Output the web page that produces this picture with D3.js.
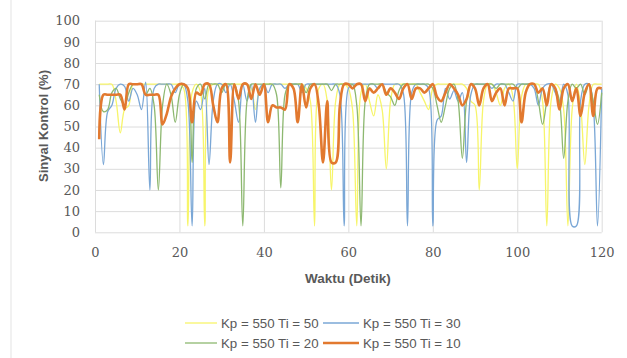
<!DOCTYPE html>
<html><head><meta charset="utf-8">
<script src="https://cdn.jsdelivr.net/npm/d3@7"></script>
<style>body{margin:0;background:#fff}svg{display:block}</style>
</head><body>
<svg id="c" width="627" height="358"></svg>
<script>
const times = d3.range(1, 121);
const yTicks = [0,10,20,30,40,50,60,70,80,90,100];
const xTicks = [0,20,40,60,80,100,120];
const seriesNames = ["Kp = 550 Ti = 50","Kp = 550 Ti = 30","Kp = 550 Ti = 20","Kp = 550 Ti = 10"];
const ti50 = [70,70,70,70,62,47,58,60,70,70, 70,70,70,70,70,70,70,70,70,70,
  68,3,66,70,66,3,68,70,70,70, 70,70,70,70,70,70,68,58,68,70,
  70,70,70,70,70,70,70,70,70,68, 62,3,68,70,62,20,62,70,70,68,
  58,3,66,70,62,55,65,58,30,62, 70,70,70,70,70,70,66,62,58,68,
  70,70,70,70,70,70,70,68,62,60, 20,62,70,70,66,60,68,70,64,30,
  64,70,70,70,70,62,3,62,70,68, 58,3,58,70,60,32,60,70,70,70];
const ti30 = [70,32,57,60,68,70,69,62,68,65, 58,71,20,68,70,70,70,70,66,70,
  70,62,3,62,58,68,32,62,70,70, 66,70,62,52,70,62,70,52,68,70,
  66,70,70,70,68,70,70,70,66,70, 70,70,70,70,70,70,70,65,3,68,
  70,70,70,70,70,70,68,70,70,70, 70,70,66,3,66,70,70,70,68,3,
  53,55,68,63,67,62,66,33,65,70, 70,70,70,68,70,70,70,66,62,70,
  70,70,70,68,60,68,70,70,66,62, 70,65,3,3,62,70,70,60,3,68];
const ti20 = [65,57,58,66,68,63,60,66,70,70, 70,65,68,60,20,60,70,65,52,65,
  70,68,33,68,70,63,70,70,70,66, 70,70,70,62,3,62,70,70,70,70,
  70,70,65,21,65,70,70,70,70,66, 70,70,70,70,70,67,70,70,70,70,
  70,60,3,62,70,70,70,70,66,64, 60,67,70,70,70,70,70,70,70,68,
  60,52,60,68,70,62,35,62,70,70, 70,70,70,70,68,70,70,70,70,68,
  70,70,70,70,62,51,62,70,68,62, 35,62,70,68,70,65,70,62,51,66];
const ti10 = [44,65,65,65,65,65,58,70,70,70, 70,65,65,65,65,51,56,64,68,70,
  70,68,52,66,65,70,70,60,52,68, 70,33,70,63,70,70,63,70,65,70,
  52,60,59,59,58,70,68,52,70,59, 68,70,60,33,62,33,33,60,70,70,
  68,70,70,62,68,66,68,70,65,68, 66,63,68,70,63,68,68,66,68,70,
  64,62,66,70,68,65,60,63,70,68, 60,68,70,62,66,68,60,68,68,68,
  52,66,70,70,66,68,60,70,68,58, 68,70,62,68,55,66,70,55,68,68];
const seriesData = [ti50, ti30, ti20, ti10];
const colors = ["#f7f56a","#7aa7d6","#8db870","#e2792f"];
const widths = [1.3,1.3,1.3,2.6];

const svg = d3.select("#c");
svg.append("line").attr("x1",11).attr("x2",11).attr("y1",0).attr("y2",358)
  .attr("stroke","#e3e3e3").attr("stroke-width",1);

const x = d3.scaleLinear().domain([0,120]).range([95,601.7]);
const y = d3.scaleLinear().domain([0,100]).range([232.3,20.7]);

const gy = svg.append("g").attr("transform","translate(95,0)")
  .call(d3.axisLeft(y).tickValues(yTicks).tickSize(-(601.7-95)).tickPadding(15));
const gx = svg.append("g").attr("transform","translate(0,232.3)")
  .call(d3.axisBottom(x).tickValues(xTicks).tickSize(-(232.3-20.7)).tickPadding(15));
[gy,gx].forEach(g=>{
  g.select(".domain").remove();
  g.selectAll(".tick line").attr("stroke","#dcdcdc").attr("stroke-width",1);
  g.selectAll(".tick text").attr("fill","#595959")
    .style("font-family","'DejaVu Serif', serif").style("font-size","13px");
});

const line = d3.line().x((d,i)=>x(times[i])).y(d=>y(d)).curve(d3.curveCatmullRom.alpha(0.5));
seriesData.forEach((s,k)=>{
  svg.append("path").datum(s).attr("d",line).attr("fill","none")
    .attr("stroke",colors[k]).attr("stroke-width",widths[k]).attr("stroke-linejoin","round");
});

svg.append("text").attr("transform","translate(43,126) rotate(-90)")
  .attr("text-anchor","middle").attr("dominant-baseline","central")
  .style("font-family","'Liberation Sans', sans-serif").style("font-size","13px")
  .style("font-weight","bold").attr("fill","#595959").text("Sinyal Kontrol (%)");
svg.append("text").attr("x",348).attr("y",278)
  .attr("text-anchor","middle").attr("dominant-baseline","central")
  .style("font-family","'Liberation Sans', sans-serif").style("font-size","13.5px")
  .style("font-weight","bold").attr("fill","#595959").text("Waktu (Detik)");

const legPos = [[185,323],[323,323],[185,343],[323,343]];
const legLen = [32,36,32,36];
seriesNames.forEach((n,k)=>{
  const [lx,ly] = legPos[k];
  svg.append("line").attr("x1",lx).attr("x2",lx+legLen[k]).attr("y1",ly).attr("y2",ly)
    .attr("stroke",colors[k]).attr("stroke-width",widths[k]);
  svg.append("text").attr("x",lx+legLen[k]+4).attr("y",ly).attr("dominant-baseline","central")
    .style("font-family","'Liberation Sans', sans-serif").style("font-size","13.3px")
    .attr("fill","#595959").text(n);
});
</script>
</body></html>
